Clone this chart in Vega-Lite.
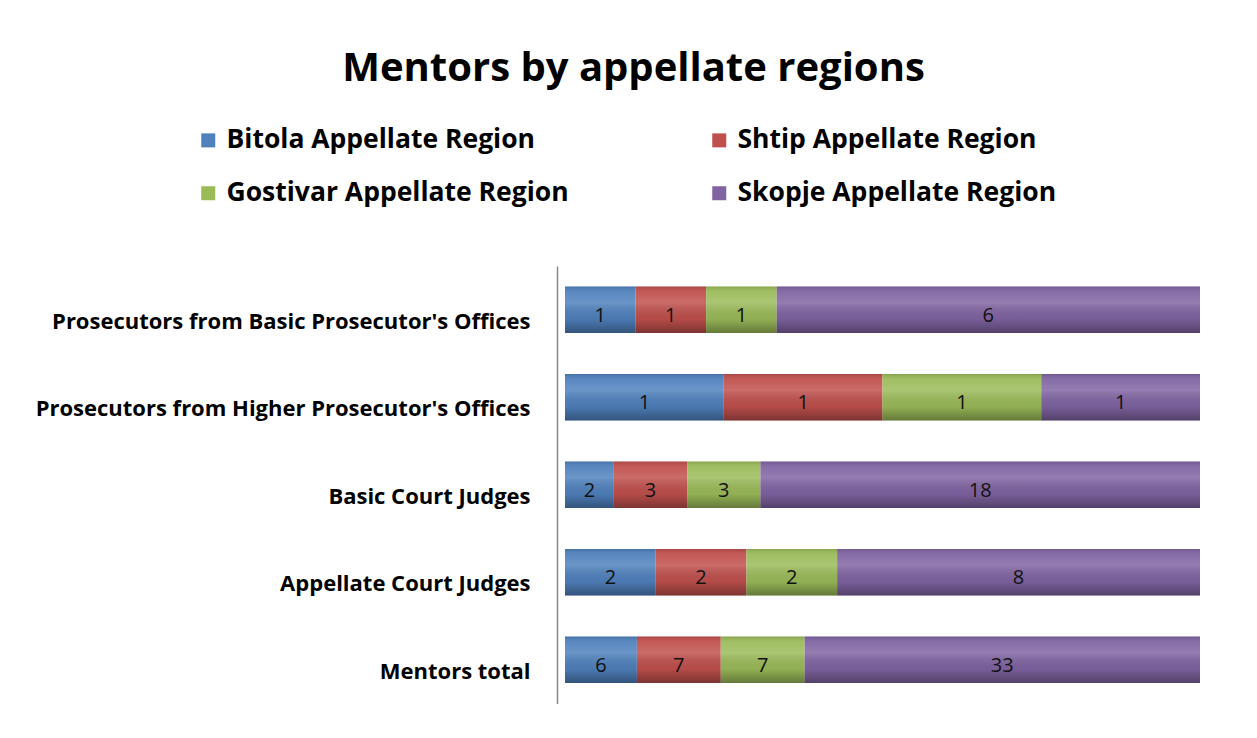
{
  "$schema": "https://vega.github.io/schema/vega-lite/v6.json",
  "width": 635,
  "height": 437.5,
  "autosize": {"type": "none"},
  "padding": {"left": 565, "top": 266, "right": 57, "bottom": 34.5},
  "background": "white",
  "title": {
    "text": "Mentors by appellate regions",
    "font": "Open Sans",
    "fontSize": 40,
    "fontWeight": "bold",
    "color": "black",
    "anchor": "middle",
    "frame": "group",
    "dx": -249,
    "offset": 38
  },
  "data": {
    "values": [
      {"category": "Prosecutors from Basic Prosecutor's Offices", "region": "Bitola Appellate Region", "o": 1, "value": 1},
      {"category": "Prosecutors from Basic Prosecutor's Offices", "region": "Shtip Appellate Region", "o": 2, "value": 1},
      {"category": "Prosecutors from Basic Prosecutor's Offices", "region": "Gostivar Appellate Region", "o": 3, "value": 1},
      {"category": "Prosecutors from Basic Prosecutor's Offices", "region": "Skopje Appellate Region", "o": 4, "value": 6},
      {"category": "Prosecutors from Higher Prosecutor's Offices", "region": "Bitola Appellate Region", "o": 1, "value": 1},
      {"category": "Prosecutors from Higher Prosecutor's Offices", "region": "Shtip Appellate Region", "o": 2, "value": 1},
      {"category": "Prosecutors from Higher Prosecutor's Offices", "region": "Gostivar Appellate Region", "o": 3, "value": 1},
      {"category": "Prosecutors from Higher Prosecutor's Offices", "region": "Skopje Appellate Region", "o": 4, "value": 1},
      {"category": "Basic Court Judges", "region": "Bitola Appellate Region", "o": 1, "value": 2},
      {"category": "Basic Court Judges", "region": "Shtip Appellate Region", "o": 2, "value": 3},
      {"category": "Basic Court Judges", "region": "Gostivar Appellate Region", "o": 3, "value": 3},
      {"category": "Basic Court Judges", "region": "Skopje Appellate Region", "o": 4, "value": 18},
      {"category": "Appellate Court Judges", "region": "Bitola Appellate Region", "o": 1, "value": 2},
      {"category": "Appellate Court Judges", "region": "Shtip Appellate Region", "o": 2, "value": 2},
      {"category": "Appellate Court Judges", "region": "Gostivar Appellate Region", "o": 3, "value": 2},
      {"category": "Appellate Court Judges", "region": "Skopje Appellate Region", "o": 4, "value": 8},
      {"category": "Mentors total", "region": "Bitola Appellate Region", "o": 1, "value": 6},
      {"category": "Mentors total", "region": "Shtip Appellate Region", "o": 2, "value": 7},
      {"category": "Mentors total", "region": "Gostivar Appellate Region", "o": 3, "value": 7},
      {"category": "Mentors total", "region": "Skopje Appellate Region", "o": 4, "value": 33}
    ]
  },
  "transform": [
    {"stack": "value", "groupby": ["category"], "sort": [{"field": "o", "order": "ascending"}], "offset": "normalize", "as": ["v0", "v1"]},
    {"calculate": "(datum.v0 + datum.v1) / 2", "as": "mid"}
  ],
  "encoding": {
    "y": {
      "field": "category",
      "type": "nominal",
      "sort": ["Prosecutors from Basic Prosecutor's Offices", "Prosecutors from Higher Prosecutor's Offices", "Basic Court Judges", "Appellate Court Judges", "Mentors total"],
      "scale": {"paddingInner": 0.47, "paddingOuter": 0.235},
      "axis": {
        "title": null,
        "ticks": false,
        "tickSize": 0,
        "offset": 8,
        "labelPadding": 27,
        "labelFont": "Open Sans",
        "labelFontSize": 22,
        "labelFontWeight": "bold",
        "labelColor": "black",
        "labelLimit": 700,
        "labelOffset": 12,
        "domainColor": "#888888",
        "domainWidth": 1.5
      }
    }
  },
  "layer": [
    {
      "mark": {"type": "bar"},
      "encoding": {
        "x": {"field": "v0", "type": "quantitative", "scale": {"domain": [0, 1], "nice": false, "zero": true}, "axis": null},
        "x2": {"field": "v1"},
        "color": {
          "field": "region",
          "type": "nominal",
          "scale": {
            "domain": ["Bitola Appellate Region", "Gostivar Appellate Region", "Shtip Appellate Region", "Skopje Appellate Region"],
            "range": ["#4F81BD", "#9BBB59", "#C0504D", "#8064A2"]
          },
          "legend": {
            "title": null,
            "orient": "none",
            "legendX": -370,
            "legendY": -139,
            "padding": 0,
            "columns": 2,
            "columnPadding": 137,
            "rowPadding": 26,
            "symbolType": "square",
            "symbolSize": 196,
            "symbolStrokeWidth": 0,
            "labelFont": "Open Sans",
            "labelFontSize": 26.5,
            "labelFontWeight": "bold",
            "labelColor": "black",
            "labelLimit": 700,
            "labelOffset": 5
          }
        }
      }
    },
    {
      "mark": {
        "type": "bar",
        "fill": {
          "gradient": "linear", "x1": 0, "y1": 0, "x2": 0, "y2": 1,
          "stops": [
            {"offset": 0, "color": "rgba(0,0,0,0.12)"},
            {"offset": 0.12, "color": "rgba(255,255,255,0.06)"},
            {"offset": 0.35, "color": "rgba(255,255,255,0.16)"},
            {"offset": 0.7, "color": "rgba(0,0,0,0.06)"},
            {"offset": 1, "color": "rgba(0,0,0,0.35)"}
          ]
        }
      },
      "encoding": {
        "x": {"field": "v0", "type": "quantitative"},
        "x2": {"field": "v1"}
      }
    },
    {
      "mark": {"type": "text", "font": "Open Sans", "fontSize": 20, "color": "#111111", "dy": 6},
      "encoding": {
        "x": {"field": "mid", "type": "quantitative"},
        "text": {"field": "value", "type": "quantitative"}
      }
    }
  ],
  "config": {"view": {"stroke": null}}
}
